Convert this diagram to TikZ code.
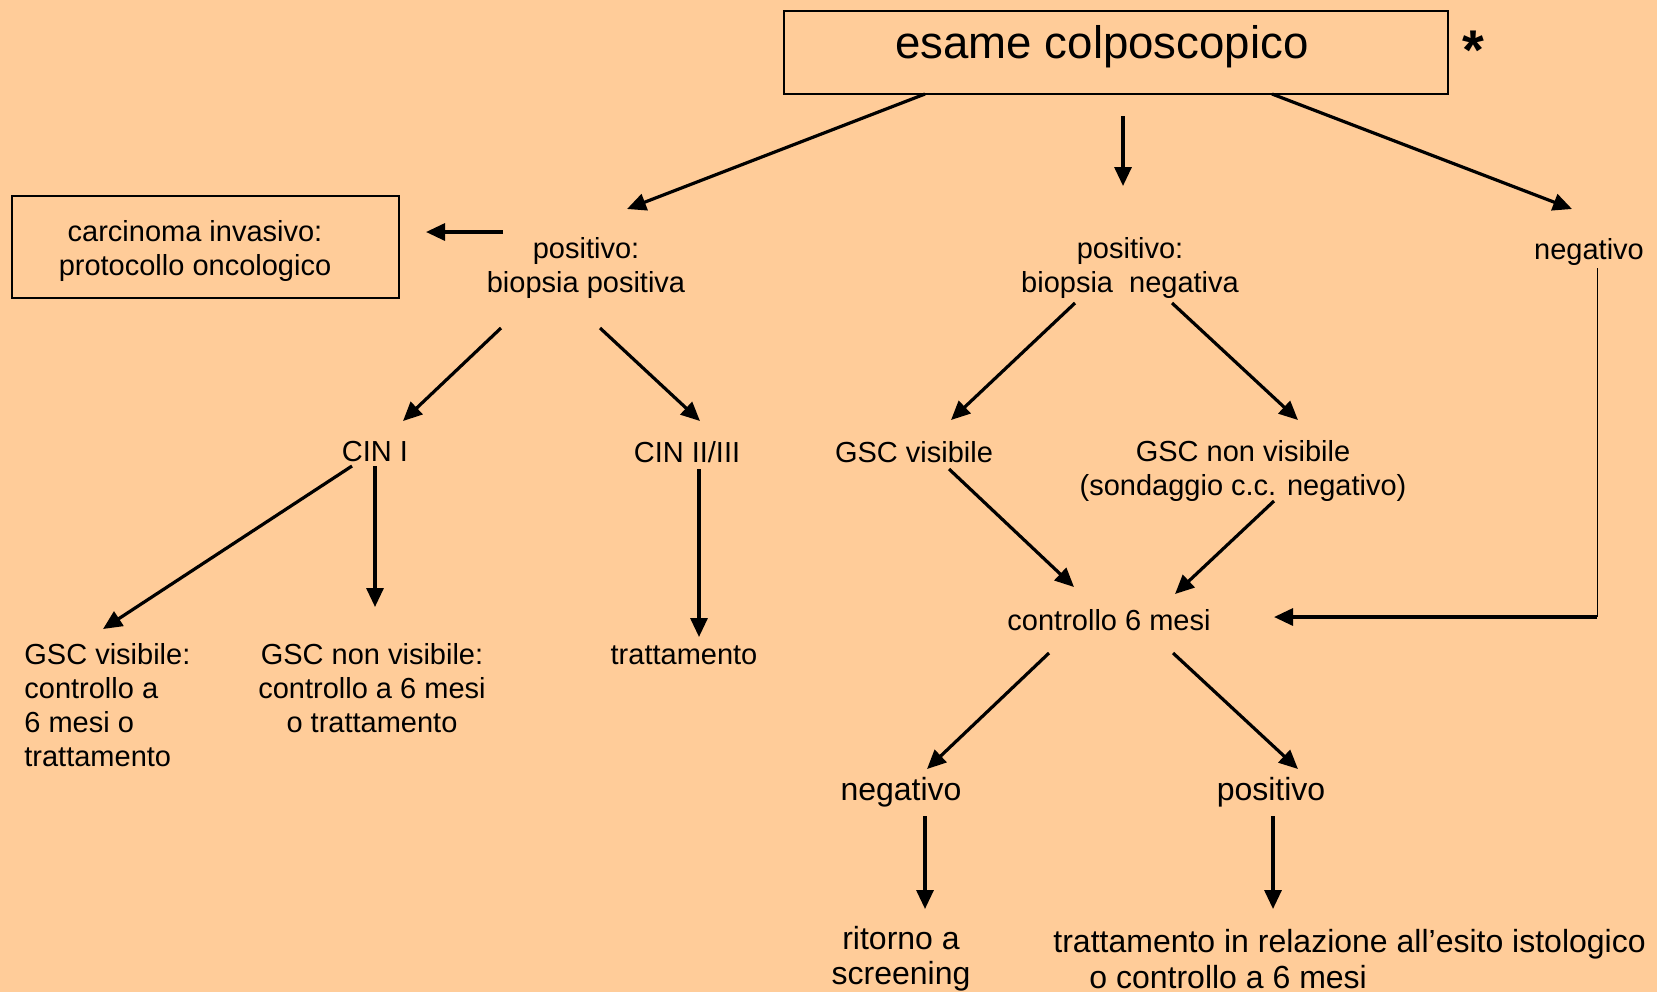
\documentclass[tikz,border=0pt]{standalone}
\usepackage{fontspec}
\setmainfont{Liberation Sans}
\usetikzlibrary{arrows.meta}
\definecolor{bg}{RGB}{255,204,153}
\begin{document}
\begin{tikzpicture}[x=0.5pt,y=-0.5pt,
  txt/.style={font=\fontsize{14.5}{17}\selectfont, inner sep=0pt, align=center},
  big/.style={font=\fontsize{16}{17.6}\selectfont, inner sep=0pt, align=center},
  ttl/.style={font=\fontsize{22.8}{26}\selectfont, inner sep=0pt},
  box/.style={draw=black, line width=0.8pt, inner sep=0pt},
  arr/.style={line width=1.6pt, -{Triangle[length=9.5pt,width=8.5pt]}},
  thinline/.style={line width=0.5pt}]
\fill[bg] (0,0) rectangle (1657,992);
\useasboundingbox (0,0) rectangle (1657,992);

% boxes
\node[box, minimum width=332pt, minimum height=41.5pt] (topbox) at (1116,52.5) {};
\node[ttl] (toptext) at (1102,47) {esame colposcopico};
\node[font=\fontsize{28}{30}\bfseries, inner sep=0pt] (star) at (1473,50) {*};
\node[box, minimum width=193.5pt, minimum height=51pt] (carc) at (205.5,247) {};
\node[txt] (carctext) at (195,251) {carcinoma invasivo:\\protocollo oncologico};

% texts
\node[txt] (pospos) at (586,268) {positivo:\\biopsia positiva};
\node[txt] (posneg) at (1130,268) {positivo:\\biopsia\ \ negativa};
\node[txt] (neg1) at (1589,252) {negativo};
\node[txt] (cin1) at (375,452) {CIN I};
\node[txt] (cin23) at (687,452) {CIN II/III};
\node[txt] (gscv) at (914,452) {GSC visibile};
\node[txt] (gscnv) at (1243,470.5) {GSC non visibile\\(sondaggio c.c. negativo)};
\node[txt, align=left, anchor=west] (leftA) at (24,705)
  {GSC visibile:\\controllo a\\6 mesi o\\trattamento};
\node[txt] (leftB) at (372,688) {GSC non visibile:\\controllo a 6 mesi\\o trattamento};
\node[txt] (tratt) at (684,655) {trattamento};
\node[txt] (ctrl) at (1109,620) {controllo 6 mesi};
\node[big] (neg2) at (901,792) {negativo};
\node[big] (pos2) at (1271,792) {positivo};
\node[big] (ritorno) at (901,959) {ritorno a\\screening};
\node[big, align=left, anchor=west] (trfin) at (1053,959)
  {trattamento in relazione all’esito istologico\\\hspace*{18pt}o controllo a 6 mesi};

% connector end points
\coordinate (a1s) at (925,94);   \coordinate (a1e) at (627,209);
\coordinate (a2s) at (1123,116); \coordinate (a2e) at (1123,186);
\coordinate (a3s) at (1272,94);  \coordinate (a3e) at (1572,209);
\coordinate (a4s) at (503,232);  \coordinate (a4e) at (426,232);
\coordinate (b1s) at (501,328);  \coordinate (b1e) at (403,421);
\coordinate (b2s) at (600,328);  \coordinate (b2e) at (700,421);
\coordinate (b3s) at (1075,303); \coordinate (b3e) at (951,420);
\coordinate (b4s) at (1172,303); \coordinate (b4e) at (1298,420);
\coordinate (c1s) at (352,466);  \coordinate (c1e) at (103,629);
\coordinate (c2s) at (375,466);  \coordinate (c2e) at (375,607);
\coordinate (c3s) at (699,469);  \coordinate (c3e) at (699,637);
\coordinate (c4s) at (949,469);  \coordinate (c4e) at (1074,587);
\coordinate (c5s) at (1274,501); \coordinate (c5e) at (1175,594);
\coordinate (n1) at (1597,268);  \coordinate (n2) at (1597,617);
\coordinate (n3) at (1274,617);
\coordinate (d1s) at (1049,653); \coordinate (d1e) at (927,769);
\coordinate (d2s) at (1173,653); \coordinate (d2e) at (1298,769);
\coordinate (e1s) at (925,816);  \coordinate (e1e) at (925,909);
\coordinate (e2s) at (1273,816); \coordinate (e2e) at (1273,909);

% connectors
\foreach \p in {a1,a2,a3,a4,b1,b2,b3,b4,c1,c2,c3,c4,c5,d1,d2,e1,e2}
  \draw[arr] (\p s) -- (\p e);
\draw[thinline] (n1) -- (n2);
\draw[arr] (n2) -- (n3);
\end{tikzpicture}
\end{document}
